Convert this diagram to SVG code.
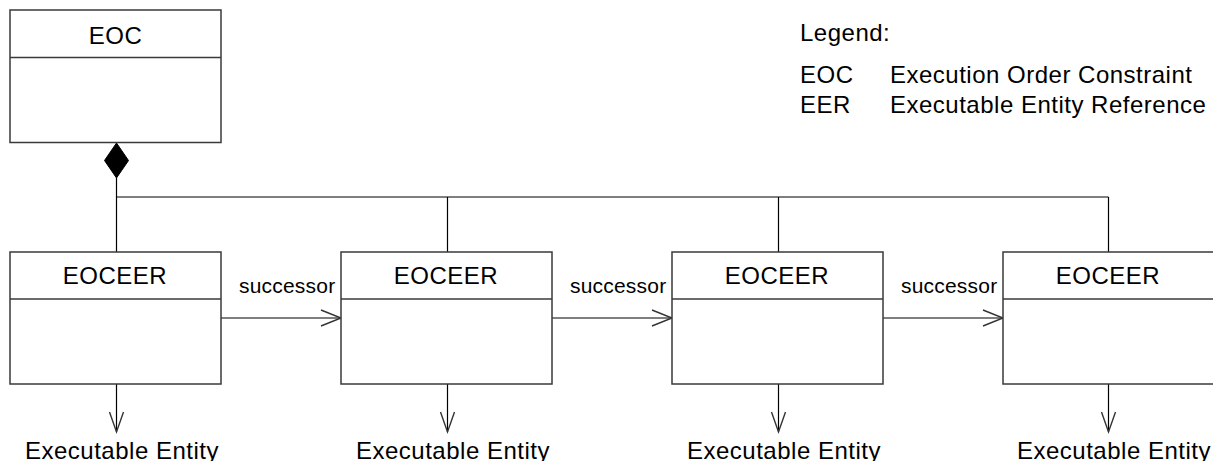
<svg xmlns="http://www.w3.org/2000/svg" width="1213" height="461" viewBox="0 0 1213 461">
<style>
  .box { fill: #ffffff; stroke: #3a3a3a; stroke-width: 1.5; }
  .div { stroke: #3a3a3a; stroke-width: 1.5; }
  .ln { fill: none; stroke: #000000; stroke-width: 1.2; }
  .head { fill: none; stroke: #333333; stroke-width: 1.4; }
  .t { font-family: "Liberation Sans", Arial, sans-serif; font-size: 24px; letter-spacing: 0.5px; fill: #000000; }
  .c { text-anchor: middle; }
  .s { font-family: "Liberation Sans", Arial, sans-serif; font-size: 21px; letter-spacing: 0.2px; fill: #000000; }
</style>
<rect width="1213" height="461" fill="#ffffff"/>

<g id="connectors">
  <polygon points="116.5,143 128.5,160.5 116.5,178 104.5,160.5" fill="#000000" stroke="#000000" stroke-width="1"/>
  <path class="ln" d="M116.5,178 V197 H1108.5 M116.5,197 V252 M447.5,197 V252 M778.5,197 V252 M1108.5,197 V252"/>
  <g id="succ1">
    <path class="ln" d="M221,318 H341"/>
    <path class="head" d="M321,310 L341,318 L321,326"/>
    <text class="s" x="239" y="293">successor</text>
  </g>
  <g id="succ2">
    <path class="ln" d="M552,318 H672"/>
    <path class="head" d="M652,310 L672,318 L652,326"/>
    <text class="s" x="570" y="293">successor</text>
  </g>
  <g id="succ3">
    <path class="ln" d="M883,318 H1003"/>
    <path class="head" d="M983,310 L1003,318 L983,326"/>
    <text class="s" x="901" y="293">successor</text>
  </g>
  <g id="ref1">
    <path class="ln" d="M116.5,384 V432"/>
    <path class="head" d="M109.5,412 L116.5,432 L123.5,412"/>
  </g>
  <g id="ref2">
    <path class="ln" d="M447.5,384 V432"/>
    <path class="head" d="M440.5,412 L447.5,432 L454.5,412"/>
  </g>
  <g id="ref3">
    <path class="ln" d="M778.5,384 V432"/>
    <path class="head" d="M771.5,412 L778.5,432 L785.5,412"/>
  </g>
  <g id="ref4">
    <path class="ln" d="M1108.5,384 V432"/>
    <path class="head" d="M1101.5,412 L1108.5,432 L1115.5,412"/>
  </g>
</g>

<g id="eoc">
  <rect class="box" x="10" y="10" width="211" height="132.5"/>
  <line class="div" x1="10" y1="57.5" x2="221" y2="57.5"/>
  <text class="t c" x="115.5" y="44">EOC</text>
</g>

<g id="eoceer1">
  <rect class="box" x="10" y="252" width="211" height="132"/>
  <line class="div" x1="10" y1="299" x2="221" y2="299"/>
  <text class="t c" x="115" y="284">EOCEER</text>
</g>
<g id="eoceer2">
  <rect class="box" x="341" y="252" width="211" height="132"/>
  <line class="div" x1="341" y1="299" x2="552" y2="299"/>
  <text class="t c" x="446" y="284">EOCEER</text>
</g>
<g id="eoceer3">
  <rect class="box" x="672" y="252" width="211" height="132"/>
  <line class="div" x1="672" y1="299" x2="883" y2="299"/>
  <text class="t c" x="777" y="284">EOCEER</text>
</g>
<g id="eoceer4">
  <rect class="box" x="1003" y="252" width="211" height="132"/>
  <line class="div" x1="1003" y1="299" x2="1214" y2="299"/>
  <text class="t c" x="1108" y="284">EOCEER</text>
</g>

<g id="entity1"><text class="t" x="25" y="459">Executable Entity</text></g>
<g id="entity2"><text class="t" x="356" y="459">Executable Entity</text></g>
<g id="entity3"><text class="t" x="687" y="459">Executable Entity</text></g>
<g id="entity4"><text class="t" x="1017" y="459">Executable Entity</text></g>

<g id="legend">
  <text class="t" x="800" y="41">Legend:</text>
  <text class="t" x="800" y="82.5">EOC</text>
  <text class="t" x="890" y="82.5">Execution Order Constraint</text>
  <text class="t" x="800" y="112.5">EER</text>
  <text class="t" x="890" y="112.5">Executable Entity Reference</text>
</g>
</svg>
